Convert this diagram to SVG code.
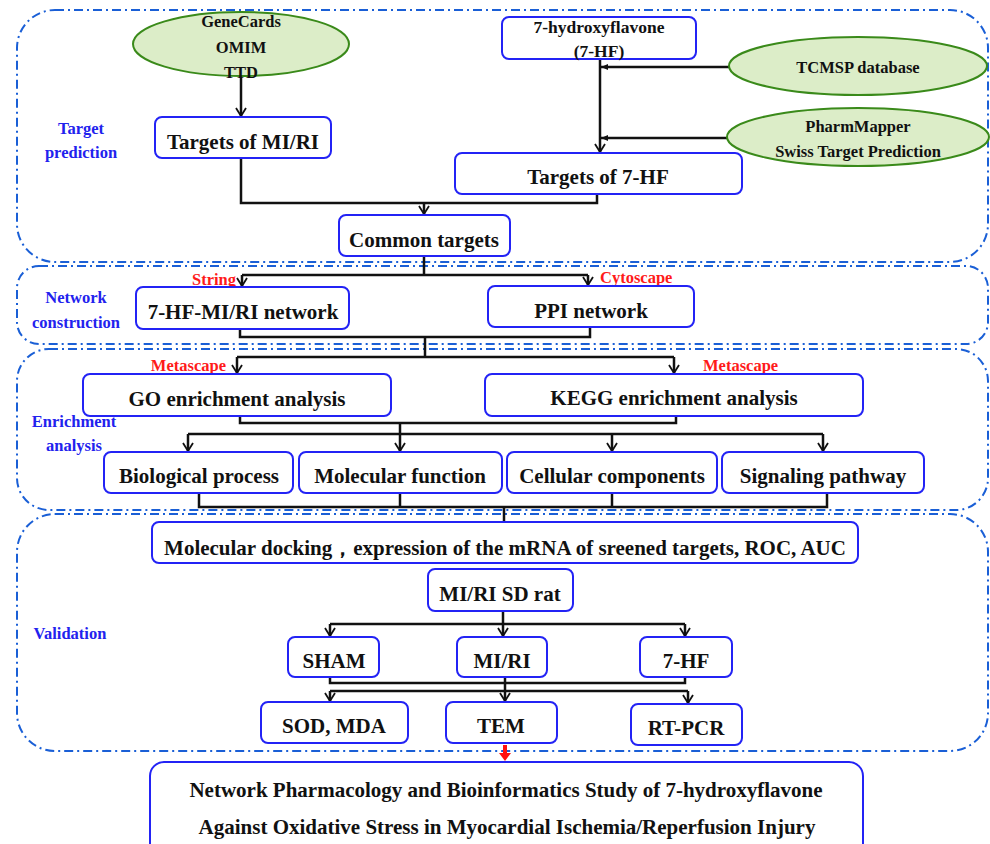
<svg xmlns="http://www.w3.org/2000/svg" width="990" height="844" viewBox="0 0 990 844">
<style>
.sec{fill:none;stroke:#1a5fd6;stroke-width:2;stroke-dasharray:9 4 2 4}
.box{fill:#fff;stroke:#2323f5;stroke-width:2}
.ell{fill:#dcedc8;stroke:#3a8a1a;stroke-width:2}
.t{font-family:"Liberation Serif","Times New Roman",serif;font-weight:bold;font-size:21px;text-anchor:middle;fill:#111}
.s{font-size:16.5px}
.m{font-size:17.5px}
.lb{font-family:"Liberation Serif","Times New Roman",serif;font-weight:bold;font-size:16.5px;text-anchor:middle;fill:#2222ee}
.rd{font-family:"Liberation Serif","Times New Roman",serif;font-weight:bold;font-size:16.5px;fill:#ff1a1a}
.c{fill:none;stroke:#111;stroke-width:2.5}
.a{fill:none;stroke:#111;stroke-width:2.5;marker-end:url(#ar)}
.af{fill:none;stroke:#111;stroke-width:2.5;marker-end:url(#af)}
</style>
<defs>
<marker id="ar" viewBox="-1 -6 10 12" refX="8" refY="0" markerWidth="10" markerHeight="12" markerUnits="userSpaceOnUse" orient="auto">
<path d="M0,-5 L8,0 L0,5" fill="none" stroke="#111" stroke-width="1.8"/>
</marker>
<marker id="af" viewBox="0 -4 8 8" refX="7" refY="0" markerWidth="8" markerHeight="8" markerUnits="userSpaceOnUse" orient="auto">
<path d="M0,-3 L7,0 L0,3 z" fill="#111"/>
</marker>
</defs>
<rect width="990" height="844" fill="#fff"/>

<g id="sections">
<rect class="sec" x="17" y="10" width="971" height="252" rx="38"/>
<rect class="sec" x="17" y="266" width="971" height="78" rx="22"/>
<rect class="sec" x="17" y="349" width="971" height="161" rx="32"/>
<rect class="sec" x="17" y="514" width="971" height="237" rx="38"/>
</g>

<g id="section-labels">
<text class="lb" x="81" y="134">Target</text>
<text class="lb" x="81" y="158">prediction</text>
<text class="lb" x="76" y="303">Network</text>
<text class="lb" x="76" y="328">construction</text>
<text class="lb" x="74" y="427">Enrichment</text>
<text class="lb" x="74" y="451">analysis</text>
<text class="lb" x="70" y="639">Validation</text>
</g>

<g id="tool-labels">
<text class="rd" x="236" y="285" text-anchor="end">String</text>
<text class="rd" x="600" y="283">Cytoscape</text>
<text class="rd" x="226" y="371" text-anchor="end">Metascape</text>
<text class="rd" x="703" y="371">Metascape</text>
</g>

<g id="connectors">
<path class="a" d="M241,76 V116"/>
<path class="a" d="M600,59 V152"/>
<path class="af" d="M729,67 H601"/>
<path class="af" d="M727,138 H601"/>
<path class="c" d="M241,158 V203 H597 V194"/>
<path class="a" d="M424,203 V214"/>
<path class="c" d="M424,256 V275"/>
<path class="c" d="M242,275 H588"/>
<path class="a" d="M242,275 V286"/>
<path class="a" d="M588,275 V285"/>
<path class="c" d="M240,329 V337 H590 V327"/>
<path class="c" d="M425,337 V357"/>
<path class="c" d="M237,357 H674"/>
<path class="a" d="M237,357 V373"/>
<path class="a" d="M674,357 V373"/>
<path class="c" d="M240,416 V423 H676 V416"/>
<path class="c" d="M400,423 V434"/>
<path class="c" d="M188,434 H823"/>
<path class="a" d="M188,434 V451"/>
<path class="a" d="M400,434 V451"/>
<path class="a" d="M612,434 V451"/>
<path class="a" d="M823,434 V451"/>
<path class="c" d="M199,493 V507 H827 V493"/>
<path class="c" d="M400,493 V507"/>
<path class="c" d="M612,493 V507"/>
<path class="c" d="M504,507 V522"/>
<path class="c" d="M503,611 V624"/>
<path class="c" d="M330,624 H685"/>
<path class="a" d="M330,624 V636"/>
<path class="a" d="M503,624 V636"/>
<path class="a" d="M685,624 V636"/>
<path class="c" d="M330,677 V683 H685 V677"/>
<path class="c" d="M505,677 V691"/>
<path class="c" d="M330,691 H688"/>
<path class="a" d="M330,691 V701"/>
<path class="a" d="M505,691 V701"/>
<path class="a" d="M688,691 V703"/>
<path d="M503,745 H507 V753 H511 L505,761 L499,753 H503 Z" fill="#ff1010"/>
</g>

<g id="n-genecards">
<ellipse class="ell" cx="241" cy="44" rx="108" ry="32"/>
<text class="t s" x="241" y="27">GeneCards</text>
<text class="t s" x="241" y="53">OMIM</text>
<text class="t s" x="241" y="78">TTD</text>
</g>
<g id="n-targets-miri">
<rect class="box" x="155" y="117" width="176" height="41" rx="7"/>
<text class="t" x="243" y="149">Targets of MI/RI</text>
</g>
<g id="n-7hf">
<rect class="box" x="502" y="17" width="194" height="42" rx="7"/>
<text class="t m" x="599" y="33">7-hydroxyflavone</text>
<text class="t m" x="599" y="57">(7-HF)</text>
</g>
<g id="n-tcmsp">
<ellipse class="ell" cx="858" cy="66" rx="129" ry="29"/>
<text class="t s" x="858" y="73">TCMSP database</text>
</g>
<g id="n-pharmmapper">
<ellipse class="ell" cx="858" cy="137" rx="131" ry="29"/>
<text class="t s" x="858" y="132">PharmMapper</text>
<text class="t s" x="858" y="157">Swiss Target Prediction</text>
</g>
<g id="n-targets-7hf">
<rect class="box" x="455" y="153" width="287" height="41" rx="7"/>
<text class="t" x="598" y="184">Targets of 7-HF</text>
</g>
<g id="n-common">
<rect class="box" x="339" y="215" width="171" height="41" rx="7"/>
<text class="t" x="424" y="247">Common targets</text>
</g>
<g id="n-network">
<rect class="box" x="136" y="287" width="213" height="42" rx="7"/>
<text class="t" x="243" y="319">7-HF-MI/RI network</text>
</g>
<g id="n-ppi">
<rect class="box" x="488" y="286" width="206" height="41" rx="7"/>
<text class="t" x="591" y="318">PPI network</text>
</g>
<g id="n-go">
<rect class="box" x="83" y="374" width="308" height="42" rx="7"/>
<text class="t" x="237" y="406">GO enrichment analysis</text>
</g>
<g id="n-kegg">
<rect class="box" x="485" y="374" width="378" height="42" rx="7"/>
<text class="t" x="674" y="405">KEGG enrichment analysis</text>
</g>
<g id="n-bp">
<rect class="box" x="104" y="452" width="189" height="41" rx="7"/>
<text class="t" x="199" y="483">Biological process</text>
</g>
<g id="n-mf">
<rect class="box" x="299" y="452" width="203" height="41" rx="7"/>
<text class="t" x="400" y="483">Molecular function</text>
</g>
<g id="n-cc">
<rect class="box" x="507" y="452" width="210" height="41" rx="7"/>
<text class="t" x="612" y="483">Cellular components</text>
</g>
<g id="n-sp">
<rect class="box" x="722" y="452" width="202" height="41" rx="7"/>
<text class="t" x="823" y="483">Signaling pathway</text>
</g>
<g id="n-docking">
<rect class="box" x="152" y="522" width="706" height="41" rx="7"/>
<text class="t" x="505" y="555">Molecular docking，expression of the mRNA of sreened targets, ROC, AUC</text>
</g>
<g id="n-rat">
<rect class="box" x="428" y="569" width="145" height="42" rx="7"/>
<text class="t" x="500" y="601">MI/RI SD rat</text>
</g>
<g id="n-sham">
<rect class="box" x="288" y="637" width="91" height="40" rx="7"/>
<text class="t" x="334" y="668">SHAM</text>
</g>
<g id="n-miri">
<rect class="box" x="457" y="637" width="90" height="40" rx="7"/>
<text class="t" x="502" y="668">MI/RI</text>
</g>
<g id="n-7hf-group">
<rect class="box" x="640" y="637" width="92" height="40" rx="7"/>
<text class="t" x="686" y="668">7-HF</text>
</g>
<g id="n-sod">
<rect class="box" x="261" y="702" width="147" height="41" rx="7"/>
<text class="t" x="334" y="733">SOD, MDA</text>
</g>
<g id="n-tem">
<rect class="box" x="446" y="702" width="111" height="41" rx="7"/>
<text class="t" x="501" y="733">TEM</text>
</g>
<g id="n-rtpcr">
<rect class="box" x="631" y="704" width="111" height="41" rx="7"/>
<text class="t" x="686" y="735">RT-PCR</text>
</g>
<g id="n-title">
<rect class="box" x="150" y="762" width="713" height="110" rx="14"/>
<text class="t" x="506" y="797">Network Pharmacology and Bioinformatics Study of 7-hydroxyflavone</text>
<text class="t" x="507" y="834">Against Oxidative Stress in Myocardial Ischemia/Reperfusion Injury</text>
</g>
</svg>
